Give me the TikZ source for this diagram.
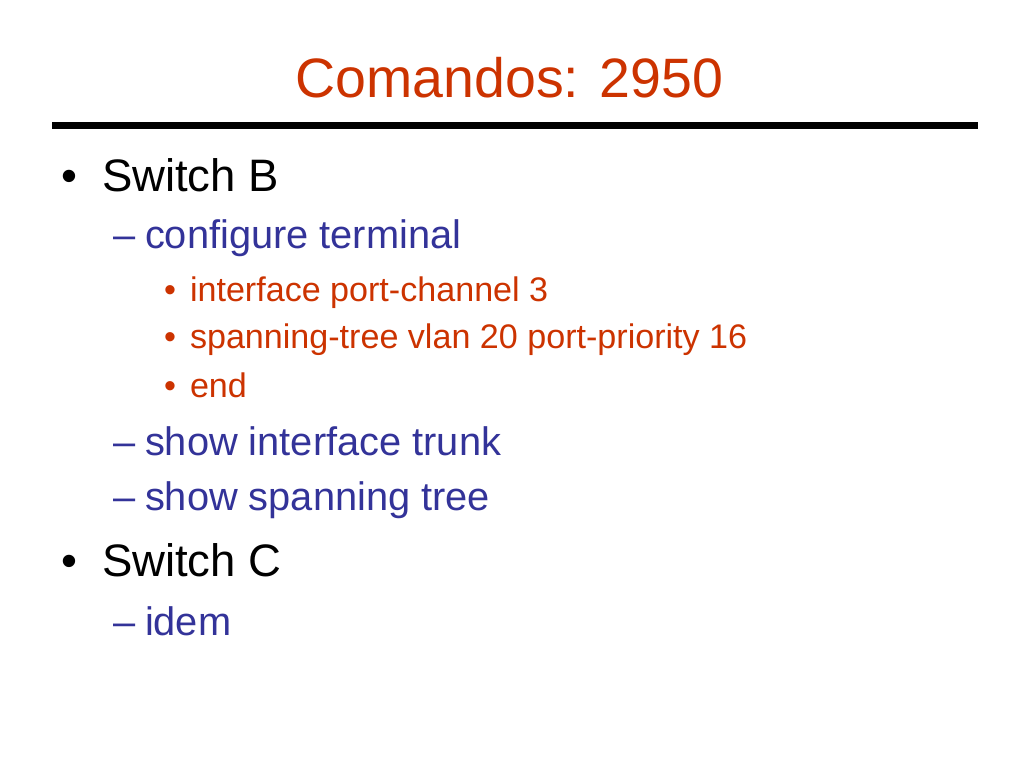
\documentclass[tikz,border=0pt]{standalone}
\usepackage{fontspec}
\setmainfont{Liberation Sans}
\definecolor{titlered}{HTML}{CC3300}
\definecolor{itemblue}{HTML}{333399}
\begin{document}
\begin{tikzpicture}[x=1pt,y=-1pt,
  every node/.style={inner sep=0pt,outer sep=0pt,anchor=base west},
  titletext/.style={text=titlered,font=\fontsize{55.5}{60}\selectfont,anchor=base},
  lvlone/.style={text=black,font=\fontsize{45.5}{50}\selectfont},
  lvltwo/.style={text=itemblue,font=\fontsize{39.8}{44}\selectfont},
  lvlthree/.style={text=titlered,font=\fontsize{34.1}{38}\selectfont}]
\useasboundingbox (0,0) rectangle (1024,768);
\fill[white] (0,0) rectangle (1024,768);
\node[titletext] (title) at (509.5,97) {Comandos: 2950};
\fill[black] (52,122) rectangle (978,129);
% Switch B
\node[lvlone] (b1) at (61,191) {•};
\node[lvlone] (t1) at (102,191) {Switch B};
\node[lvltwo] (d1) at (113,248) {–};
\node[lvltwo] (t2) at (145,248) {configure terminal};
\node[lvlthree] (b3a) at (164,301) {•};
\node[lvlthree] (t3a) at (190,301) {interface port-channel 3};
\node[lvlthree] (b3b) at (164,348) {•};
\node[lvlthree] (t3b) at (190,348) {spanning-tree vlan 20 port-priority 16};
\node[lvlthree] (b3c) at (164,397) {•};
\node[lvlthree] (t3c) at (190,397) {end};
\node[lvltwo] (d2) at (113,455) {–};
\node[lvltwo] (t4) at (145,455) {show interface trunk};
\node[lvltwo] (d3) at (113,510) {–};
\node[lvltwo] (t5) at (145,510) {show spanning tree};
% Switch C
\node[lvlone] (b2) at (61,576) {•};
\node[lvlone] (t6) at (102,576) {Switch C};
\node[lvltwo] (d4) at (113,635) {–};
\node[lvltwo] (t7) at (145,635) {idem};
\end{tikzpicture}
\end{document}
